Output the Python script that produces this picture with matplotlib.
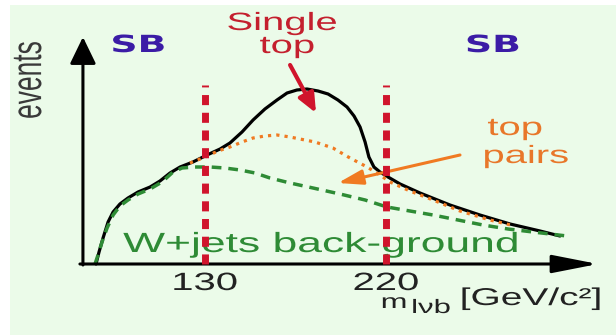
import matplotlib
matplotlib.use("Agg")
import matplotlib.pyplot as plt
from matplotlib.patheffects import AbstractPathEffect
from matplotlib.transforms import Affine2D

# ---- curves: invariant mass m_lvb [GeV/c^2] vs. events (arbitrary units) ----
total_mass = [75.8, 77.3, 79.3, 81.8, 84.3, 87.7, 91.7, 96.7, 102.7, 107.6, 112.6,
              117.6, 124.0, 131.0, 137.5, 142.4, 148.4, 153.9, 159.8, 165.8, 170.8,
              175.7, 180.7, 186.2, 191.2, 196.1, 200.6, 204.1, 207.1, 209.6, 211.5,
              214.0, 217.0, 221.0, 227.0, 236.9, 251.8, 266.7, 281.7, 296.6, 306.5]
total_events = [0, 6, 13, 21, 26, 30, 33, 36, 38.5, 41.5, 45.5,
                48.5, 51, 54.5, 57.5, 60.5, 66, 72, 77.5, 82, 85.5,
                87, 87.5, 86.5, 85, 82, 78.5, 74, 68.5, 61, 53.5,
                48.5, 46, 43.5, 40, 35.5, 29.5, 24.5, 20, 16.5, 14]

wjets_mass = [75.3, 76.8, 78.8, 81.3, 84.3, 87.7, 91.7, 96.7, 102.7, 108.6, 114.1,
              118.6, 125.0, 132.5, 139.9, 147.4, 154.9, 162.3, 172.3, 183.7, 197.1,
              209.6, 220.5, 231.9, 243.4, 255.8, 268.2, 280.7, 293.1, 310.0]
wjets_events = [0, 4.5, 11, 18, 24.5, 29, 32, 35, 37.5, 41, 46,
                48, 48.5, 48.5, 48, 47, 45.5, 43, 40.5, 38, 35,
                32, 28.5, 26.5, 24.5, 22, 19.5, 17.5, 16, 14]

ttbar_mass = [122.5, 130.0, 136.5, 142.4, 148.4, 153.9, 159.8, 165.8, 172.3, 177.2,
              184.7, 193.6, 202.1, 210.6, 217.0, 222.0, 231.9, 243.4, 256.8, 271.7, 284.1]
ttbar_events = [50.5, 53.5, 56.5, 58.5, 61, 63, 64, 64.5, 63.5, 62.5,
                61, 58, 53, 48.5, 44.5, 41, 36.5, 32, 26.5, 22, 19]

# signal-region boundaries and their tick labels
window_edges = [130, 220]
window_labels = ["130", "220"]
window_top = 89.5

# extent of the drawn axes arrows
x_axis_range = (67.8, 325.4)
y_axis_range = (-0.5, 113.5)
y_axis_pos = 69.3

BG = "#ebfbe9"
RED = "#d0142c"
ORANGE = "#f07a22"
GREEN = "#2e8b35"
INDIGO = "#3b1ca6"


class StretchX(AbstractPathEffect):
    """Widen glyphs horizontally about the centre of each text line."""

    def __init__(self, factor=1.6):
        super().__init__((0, 0))
        self.factor = factor

    def draw_path(self, renderer, gc, tpath, affine, rgbFace=None):
        box = tpath.transformed(affine).get_extents()
        cx = 0.5 * (box.x0 + box.x1)
        wide = affine + Affine2D().translate(-cx, 0).scale(self.factor, 1).translate(cx, 0)
        renderer.draw_path(gc, tpath, wide, rgbFace)


WIDE = [StretchX(1.6)]
SANS = ["Liberation Sans", "DejaVu Sans"]

fig = plt.figure(figsize=(6.16, 3.35), dpi=100)
fig.patch.set_facecolor("white")
ax = fig.add_axes([10 / 616, 0, 606 / 616, 330 / 335])
ax.set_facecolor(BG)
for s in ax.spines.values():
    s.set_visible(False)
ax.set_xticks([])
ax.set_yticks([])
ax.set_xlim(33.03, 334.37)
ax.set_ylim(-35.5, 129.5)

# axes with arrow heads
ax.annotate("", xy=(x_axis_range[1], 0), xytext=(x_axis_range[0], 0),
            arrowprops=dict(arrowstyle="-|>,head_length=2.8,head_width=0.55",
                            lw=2.2, color="black", shrinkA=0, shrinkB=0,
                            mutation_scale=10), zorder=6)
ax.annotate("", xy=(y_axis_pos, y_axis_range[1]), xytext=(y_axis_pos, y_axis_range[0]),
            arrowprops=dict(arrowstyle="-|>,head_length=1.65,head_width=0.8",
                            lw=2.2, color="black", shrinkA=0, shrinkB=0,
                            mutation_scale=10), zorder=6)

# curves
ax.plot(total_mass, total_events, color="black", lw=2.3,
        solid_joinstyle="round", solid_capstyle="round", zorder=3)
ax.plot(ttbar_mass, ttbar_events, color=ORANGE, lw=2.3, linestyle=(0, (1.0, 1.6)),
        dash_capstyle="butt", zorder=4)
ax.plot(wjets_mass, wjets_events, color=GREEN, lw=2.5, linestyle=(0, (2.8, 2.0)),
        dash_capstyle="butt", zorder=4)

# side-band boundaries
for edge in window_edges:
    ax.plot([edge, edge], [0, window_top], color=RED, lw=5,
            linestyle=(0, (1.45, 1.1)), dash_capstyle="butt", zorder=7)

# labels
ax.text(42.5, 92, "events", rotation=90, ha="center", va="center",
        fontsize=19, family=SANS, color="#3a3a3a", path_effects=WIDE)
for xm in (96.9, 273.2):
    ax.text(xm, 106, "SB", ha="center", va="baseline", fontsize=17,
            family="DejaVu Sans", fontweight="bold", color=INDIGO, path_effects=WIDE)

ax.text(168.3, 117, "Single", ha="center", va="baseline", fontsize=18,
        family=SANS, color="#c4202e", path_effects=WIDE)
ax.text(170.8, 105.5, "top", ha="center", va="baseline", fontsize=18,
        family=SANS, color="#c4202e", path_effects=WIDE)
ax.annotate("", xy=(185.2, 75.5), xytext=(172.3, 99.5),
            arrowprops=dict(arrowstyle="-|>,head_length=1.15,head_width=0.5",
                            lw=3, color=RED, shrinkA=0, shrinkB=0,
                            mutation_scale=10), zorder=5)

ax.text(284.1, 64.5, "top", ha="center", va="baseline", fontsize=18,
        family=SANS, color="#e8772a", path_effects=WIDE)
ax.text(289.6, 50.5, "pairs", ha="center", va="baseline", fontsize=18,
        family=SANS, color="#e8772a", path_effects=WIDE)
ax.annotate("", xy=(196.1, 40.5), xytext=(256.8, 54.5),
            arrowprops=dict(arrowstyle="-|>,head_length=1.5,head_width=0.45",
                            lw=2.2, color=ORANGE, shrinkA=0, shrinkB=0,
                            mutation_scale=10), zorder=5)

ax.text(187.5, 6, "W+jets back-ground", ha="center", va="baseline", fontsize=20,
        family=SANS, color=GREEN, path_effects=WIDE, zorder=5)

for edge, lab in zip(window_edges, window_labels):
    ax.text(edge, -13, lab, ha="center", va="baseline", fontsize=18,
            family=SANS, color="#222222", path_effects=WIDE)

ax.text(224.0, -22, "m", ha="center", va="baseline", fontsize=14.5,
        family=SANS, color="#222222", path_effects=WIDE)
ax.text(242.5, -24.5, "lνb", ha="center", va="baseline", fontsize=14,
        family=SANS, color="#222222", path_effects=WIDE)
ax.text(292.1, -20.5, "[GeV/c²]", ha="center", va="baseline", fontsize=17.5,
        family=SANS, color="#222222", path_effects=WIDE)

fig.savefig("out.png", dpi=100, facecolor=fig.get_facecolor())
